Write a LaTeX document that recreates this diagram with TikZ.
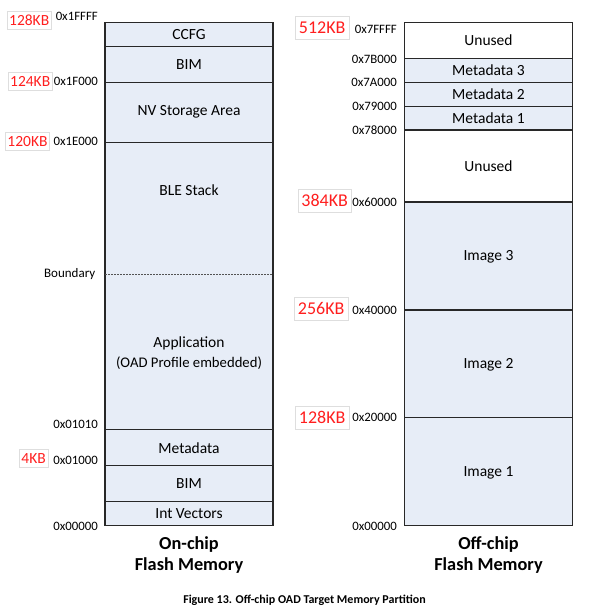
\documentclass[tikz,border=0pt]{standalone}
\usepackage{fontspec}
\setmainfont{Carlito}
\definecolor{memfill}{RGB}{231,237,247}
\definecolor{linegray}{RGB}{40,40,40}
\definecolor{kbred}{RGB}{255,30,30}
\definecolor{kbbox}{RGB}{222,222,222}
\begin{document}
\begin{tikzpicture}[x=1pt,y=-1pt,
  mem/.style={draw=linegray, line width=1.2pt, fill=memfill},
  memw/.style={draw=linegray, line width=1.2pt, fill=white},
  lbl/.style={font=\fontsize{15.5}{17}\selectfont, inner sep=0pt, align=center},
  hex/.style={font=\fontsize{12.8}{14}\selectfont, anchor=east, inner sep=0pt},
  kbl/.style={font=\fontsize{15.5}{17}\selectfont, text=kbred, draw=kbbox, line width=0.6pt, anchor=east, inner xsep=2.2pt, inner ysep=0pt, minimum height=18.5pt},
  kbr/.style={font=\fontsize{18}{20}\selectfont, text=kbred, draw=kbbox, line width=0.6pt, anchor=east, inner xsep=3.5pt, inner ysep=0pt, minimum height=23pt},
  ttl/.style={font=\bfseries\fontsize{18.3}{21.5}\selectfont, align=center, inner sep=0pt}]
\useasboundingbox (0,0) rectangle (597,610);

% ---------- On-chip ----------
\path[mem] (105,22.7) rectangle (273,46.3);
\path[mem] (105,46.3) rectangle (273,82.3);
\path[mem] (105,82.3) rectangle (273,142.3);
\path[mem] (105,142.3) rectangle (273,429.7);
\path[mem] (105,429.7) rectangle (273,465.7);
\path[mem] (105,465.7) rectangle (273,501.7);
\path[mem] (105,501.7) rectangle (273,525.7);
\coordinate (bl) at (105,274);
\coordinate (br) at (273,274);
\draw[linegray!80, line width=0.9pt, dash pattern=on 2pt off 1pt] (bl) -- (br);

\node[lbl] (ccfg) at (189,34.5) {CCFG};
\node[lbl] (bim1) at (189,64.3) {BIM};
\node[lbl] (nv) at (189,112.3) {NV Storage Area};
\node[lbl] (ble) at (189,190) {BLE Stack};
\node[lbl] (app) at (189,343) {Application};
\node[font=\fontsize{14.7}{16}\selectfont, inner sep=0pt] (oad) at (189,363) {(OAD Profile embedded)};
\node[lbl] (meta) at (189,448) {Metadata};
\node[lbl] (bim2) at (189,484) {BIM};
\node[lbl] (intv) at (189,514) {Int Vectors};

\node[hex] (h1) at (98,16.7) {0x1FFFF};
\node[hex] (h2) at (98,81.7) {0x1F000};
\node[hex] (h3) at (98,141.7) {0x1E000};
\node[font=\fontsize{13}{15}\selectfont, anchor=east, inner sep=0pt] (bnd) at (95.5,274) {Boundary};
\node[hex] (h4) at (98,424) {0x01010};
\node[hex] (h5) at (98,460) {0x01000};
\node[hex] (h6) at (98,526) {0x00000};

\node[kbl] (k1) at (51.7,20.5) {128KB};
\node[kbl] (k2) at (52.7,81.3) {124KB};
\node[kbl] (k3) at (50,141.3) {120KB};
\node[kbl] (k4) at (48.3,458.5) {4KB};

\node[ttl] (t1) at (189,555) {On-chip\\Flash Memory};

% ---------- Off-chip ----------
\path[memw] (404.7,22.3) rectangle (572.3,58.3);
\path[mem] (404.7,58.3) rectangle (572.3,82.3);
\path[mem] (404.7,82.3) rectangle (572.3,106.3);
\path[mem] (404.7,106.3) rectangle (572.3,130);
\path[memw] (404.7,130) rectangle (572.3,202);
\path[mem] (404.7,202) rectangle (572.3,310);
\path[mem] (404.7,310) rectangle (572.3,417.7);
\path[mem] (404.7,417.7) rectangle (572.3,525.7);

\node[lbl] (un1) at (488.5,40.5) {Unused};
\node[lbl] (m3) at (488.5,70.5) {Metadata 3};
\node[lbl] (m2) at (488.5,94.5) {Metadata 2};
\node[lbl] (m1) at (488.5,118) {Metadata 1};
\node[lbl] (un2) at (488.5,166.5) {Unused};
\node[lbl] (i3) at (488.5,256.5) {Image 3};
\node[lbl] (i2) at (488.5,364.5) {Image 2};
\node[lbl] (i1) at (488.5,472.5) {Image 1};

\node[hex] (r1) at (397,29) {0x7FFFF};
\node[hex] (r2) at (397,59.3) {0x7B000};
\node[hex] (r3) at (397,82.3) {0x7A000};
\node[hex] (r4) at (397,106) {0x79000};
\node[hex] (r5) at (397,130) {0x78000};
\node[hex] (r6) at (397,202) {0x60000};
\node[hex] (r7) at (397,310) {0x40000};
\node[hex] (r8) at (397,417.7) {0x20000};
\node[hex] (r9) at (397,526) {0x00000};

\node[kbr] (q1) at (349.3,27.7) {512KB};
\node[kbr] (q2) at (351.7,200.8) {384KB};
\node[kbr] (q3) at (348.3,308.8) {256KB};
\node[kbr] (q4) at (349.3,417.7) {128KB};

\node[ttl] (t2) at (488.5,555) {Off-chip\\Flash Memory};

\node[font=\bfseries\fontsize{12}{14}\selectfont, inner sep=0pt] (cap) at (304.5,600) {Figure 13. Off-chip OAD Target Memory Partition};
\end{tikzpicture}
\end{document}
